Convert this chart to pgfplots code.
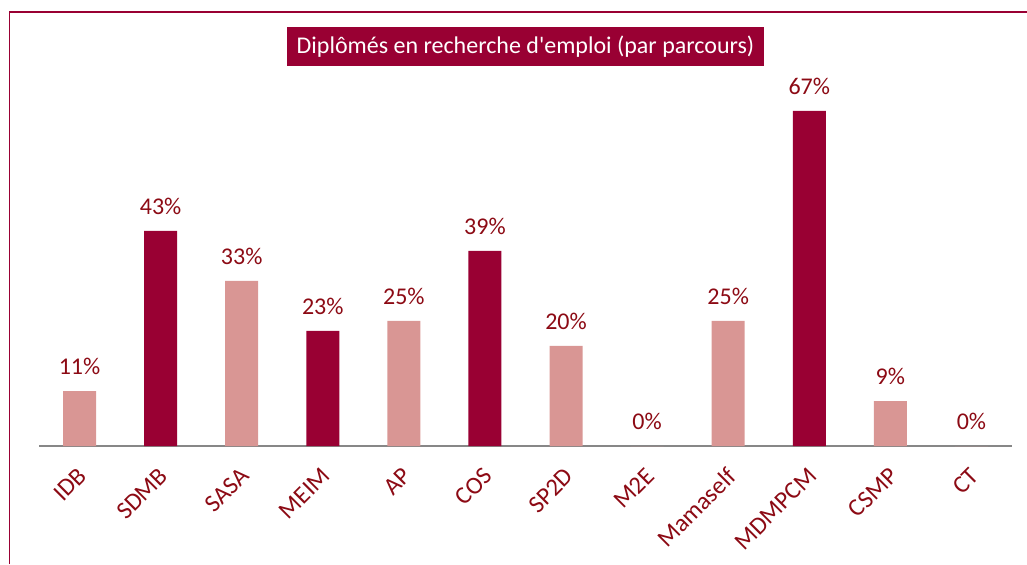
\documentclass[border=0pt]{standalone}
\usepackage{pgfplots}
\pgfplotsset{compat=1.18}
\usepackage{fontspec}
\setmainfont{Carlito}
\definecolor{frame}{HTML}{990033}
\definecolor{darkbar}{HTML}{990033}
\definecolor{lightbar}{HTML}{D99694}
\definecolor{lbl}{HTML}{8C0A14}
\definecolor{axgray}{HTML}{878787}
\begin{document}
\begin{tikzpicture}[x=1pt,y=1pt]
\useasboundingbox (0,0) rectangle (770.25,423);
\draw[frame, line width=1.4pt] (7.1,0) -- (7.1,414) -- (770.25,414);
\node[fill=darkbar, text=white, minimum width=357.75pt, minimum height=29.25pt, inner sep=0pt, font=\fontsize{18}{20}\selectfont] at (394.1,388.1) {Diplômés en recherche d\textquotesingle emploi (par parcours)};
\begin{axis}[
  at={(29.25pt,88.5pt)}, anchor=south west,
  scale only axis, width=729.75pt, height=262.5pt,
  xmin=-0.5, xmax=11.5, ymin=0, ymax=70,
  axis x line=bottom, axis y line=none,
  x axis line style={axgray, line width=1.4pt, -},
  xtick={0,...,11},
  xticklabels={IDB,SDMB,SASA,MEIM,AP,COS,SP2D,M2E,Mamaself,MDMPCM,CSMP,CT},
  major tick length=0pt,
  xticklabel style={anchor=north east, xshift=-2pt, yshift=-15pt, rotate=45, text=lbl, font=\fontsize{18.5}{20}\selectfont, inner sep=0pt},
  ybar, bar width=24.75pt, bar shift=0pt,
  /pgf/number format/assume math mode=true,
  nodes near coords={\pgfmathprintnumber{\pgfplotspointmeta}\%},
  every node near coord/.append style={text=lbl, font=\fontsize{18}{20}\selectfont, anchor=center, yshift=18.75pt},
  clip=false,
]
\addplot[fill=lightbar, draw=none] coordinates {(0,11) (2,33) (4,25) (6,20) (7,0) (8,25) (10,9) (11,0)};
\addplot[fill=darkbar, draw=none] coordinates {(1,43) (3,23) (5,39) (9,67)};
\end{axis}
\end{tikzpicture}
\end{document}
